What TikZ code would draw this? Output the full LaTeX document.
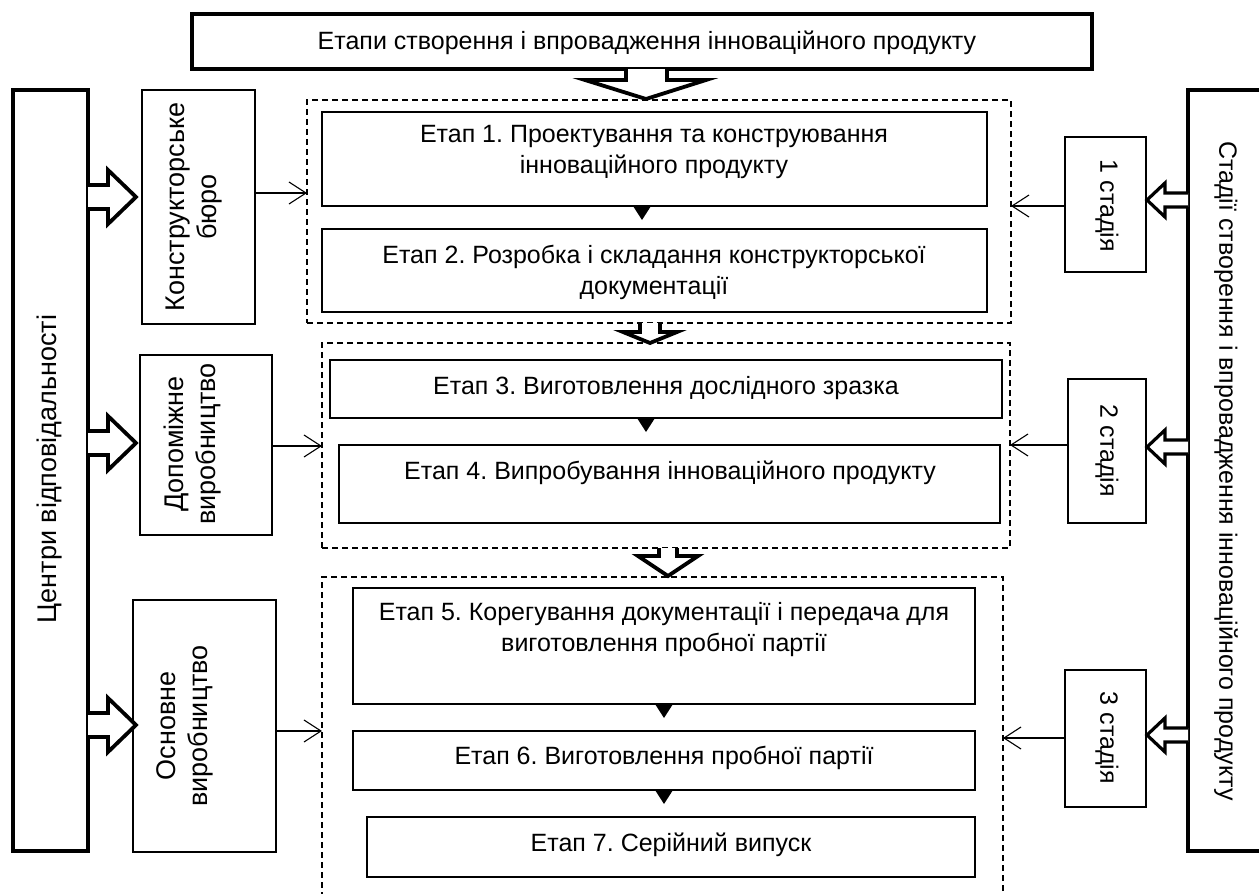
\documentclass[tikz,border=0pt]{standalone}
\usepackage{fontspec}
\setmainfont{Liberation Sans}
\usetikzlibrary{arrows.meta}
\frenchspacing
\tikzset{
  bx/.style={draw=black, line width=1.3pt, inner sep=0pt, outer sep=0pt, fill=white},
  bigbx/.style={draw=black, line width=4pt, inner sep=0pt, outer sep=0pt},
  dbx/.style={draw=black, line width=1.3pt, dash pattern=on 6pt off 4pt, inner sep=0pt, outer sep=0pt},
  txt/.style={align=center, inner sep=0pt, font=\fontsize{25}{31}\selectfont},
  bigtxt/.style={align=center, inner sep=0pt, font=\fontsize{27}{32}\selectfont},
  thinarr/.style={draw=black, line width=1.1pt, -{Straight Barb[length=17pt,width=22pt,line width=1.1pt]}},
  hollow/.style={draw=black, line width=3.8pt, line join=miter, fill=white},
  tri/.style={fill=black}
}
\begin{document}
\begin{tikzpicture}[x=1pt,y=-1pt]
\path[use as bounding box] (0,0) rectangle (1259,894);
\clip (0,0) rectangle (1259,894);

% title
\node[bigbx, minimum width=900pt, minimum height=55pt] (T) at (642,41.5) {};
\node[txt] (Tt) at (647,43) {Етапи створення і впровадження інноваційного продукту};

% big left / right boxes
\node[bigbx, minimum width=75pt, minimum height=761pt] (L) at (50.5,470.5) {};
\node[bigtxt, rotate=90] (Lt) at (50,469) {Центри відповідальності};
\node[bigbx, minimum width=102pt, minimum height=761pt] (R) at (1239,470.5) {};
\node[txt, rotate=-90] (Rt) at (1226,471) {Стадії створення і впровадження інноваційного продукту};

% dashed groups
\node[dbx, minimum width=704pt, minimum height=223pt] (D1) at (659,211.5) {};
\node[dbx, minimum width=688pt, minimum height=205pt] (D2) at (666,445.5) {};
\node[dbx, minimum width=681pt, minimum height=333pt] (D3) at (662.5,743.5) {};

% left units
\node[bx, minimum width=113pt, minimum height=234pt] (K) at (198.5,207) {};
\node[bigtxt, rotate=90] (Kt) at (194,207) {Конструкторське\\бюро};
\node[bx, minimum width=132pt, minimum height=180pt] (D) at (206,445) {};
\node[bigtxt, rotate=90] (Dt) at (193,444) {Допоміжне\\виробництво};
\node[bx, minimum width=143pt, minimum height=252pt] (O) at (204.5,726) {};
\node[bigtxt, rotate=90] (Ot) at (185,726) {Основне\\виробництво};

% stages right
\node[bx, minimum width=81pt, minimum height=135pt] (S1) at (1105.5,204.5) {};
\node[txt, rotate=-90] (S1t) at (1107,206) {1 стадія};
\node[bx, minimum width=78pt, minimum height=144pt] (S2) at (1107,451) {};
\node[txt, rotate=-90] (S2t) at (1107,451) {2 стадія};
\node[bx, minimum width=81pt, minimum height=137pt] (S3) at (1105.5,738.5) {};
\node[txt, rotate=-90] (S3t) at (1107,738) {3 стадія};

% stage boxes
\node[bx, minimum width=665pt, minimum height=94pt] (E1) at (654.5,159) {};
\node[txt] (E1t) at (654,152) {Етап 1. Проектування та конструювання\\інноваційного продукту};
\node[bx, minimum width=665pt, minimum height=83pt] (E2) at (654.5,270.5) {};
\node[txt] (E2t) at (654,272) {Етап 2. Розробка і складання конструкторської\\документації};
\node[bx, minimum width=672pt, minimum height=58pt] (E3) at (666,389) {};
\node[txt] (E3t) at (666,388) {Етап 3. Виготовлення дослідного зразка};
\node[bx, minimum width=661pt, minimum height=78pt] (E4) at (669.5,484) {};
\node[txt] (E4t) at (670,473) {Етап 4. Випробування інноваційного продукту};
\node[bx, minimum width=622pt, minimum height=116pt] (E5) at (664,646) {};
\node[txt] (E5t) at (664,630) {Етап 5. Корегування документації і передача для\\виготовлення пробної партії};
\node[bx, minimum width=622pt, minimum height=59pt] (E6) at (664,760.5) {};
\node[txt] (E6t) at (664,758) {Етап 6. Виготовлення пробної партії};
\node[bx, minimum width=608pt, minimum height=60pt] (E7) at (671,847) {};
\node[txt] (E7t) at (671,845) {Етап 7. Серійний випуск};

% small triangles between stages
\fill[tri] (E1.south -| 642,0) ++(-9,0) -- ++(18,0) -- ++(-9,14) -- cycle;
\fill[tri] (E3.south -| 646,0) ++(-9,0) -- ++(18,0) -- ++(-9,14) -- cycle;
\fill[tri] (E5.south -| 664,0) ++(-9,0) -- ++(18,0) -- ++(-9,14) -- cycle;
\fill[tri] (E6.south -| 664,0) ++(-9,0) -- ++(18,0) -- ++(-9,14) -- cycle;

% top hollow arrow
\draw[hollow] (T.south -| 626,0) -- ++(0,11) -- ++(-41,0) -- (646,99) -- (706,80) -- ++(-39,0) -- (T.south -| 667,0);
% hollow arrows between groups
\draw[hollow] (D1.south -| 640,0) -- ++(0,9) -- ++(-17,0) -- (650,343) -- (677,332) -- ++(-17,0) -- (D1.south -| 660,0);
\draw[hollow] (D2.south -| 659,0) -- ++(0,8) -- ++(-21,0) -- (668,576) -- (698,556) -- ++(-21,0) -- (D2.south -| 677,0);

% left hollow arrows
\draw[hollow] (L.east |- 0,185) -- ++(20,0) -- ++(0,-15) -- (136,197) -- (108,224) -- ++(0,-15) -- (L.east |- 0,209);
\draw[hollow] (L.east |- 0,431) -- ++(20,0) -- ++(0,-15) -- (136,443) -- (108,470) -- ++(0,-15) -- (L.east |- 0,455);
\draw[hollow] (L.east |- 0,713) -- ++(20,0) -- ++(0,-15) -- (136,725) -- (108,752) -- ++(0,-15) -- (L.east |- 0,737);

% right hollow arrows
\draw[hollow, line width=3.2pt] (R.west |- 0,193) -- ++(-23,0) -- ++(0,-10) -- (1147,200) -- (1165,217) -- ++(0,-10) -- (R.west |- 0,207);
\draw[hollow, line width=3.2pt] (R.west |- 0,440) -- ++(-23,0) -- ++(0,-10) -- (1147,447) -- (1165,464) -- ++(0,-10) -- (R.west |- 0,454);
\draw[hollow, line width=3.2pt] (R.west |- 0,728) -- ++(-23,0) -- ++(0,-10) -- (1147,735) -- (1165,752) -- ++(0,-10) -- (R.west |- 0,742);

% thin arrows
\draw[thinarr] (K.east |- 0,193) -- (D1.west |- 0,193);
\draw[thinarr] (D.east |- 0,446) -- (D2.west |- 0,446);
\draw[thinarr] (O.east |- 0,731) -- (D3.west |- 0,731);
\draw[thinarr] (S1.west |- 0,206) -- (D1.east |- 0,206);
\draw[thinarr] (S2.west |- 0,445) -- (D2.east |- 0,445);
\draw[thinarr] (S3.west |- 0,738) -- (D3.east |- 0,738);
\end{tikzpicture}
\end{document}
